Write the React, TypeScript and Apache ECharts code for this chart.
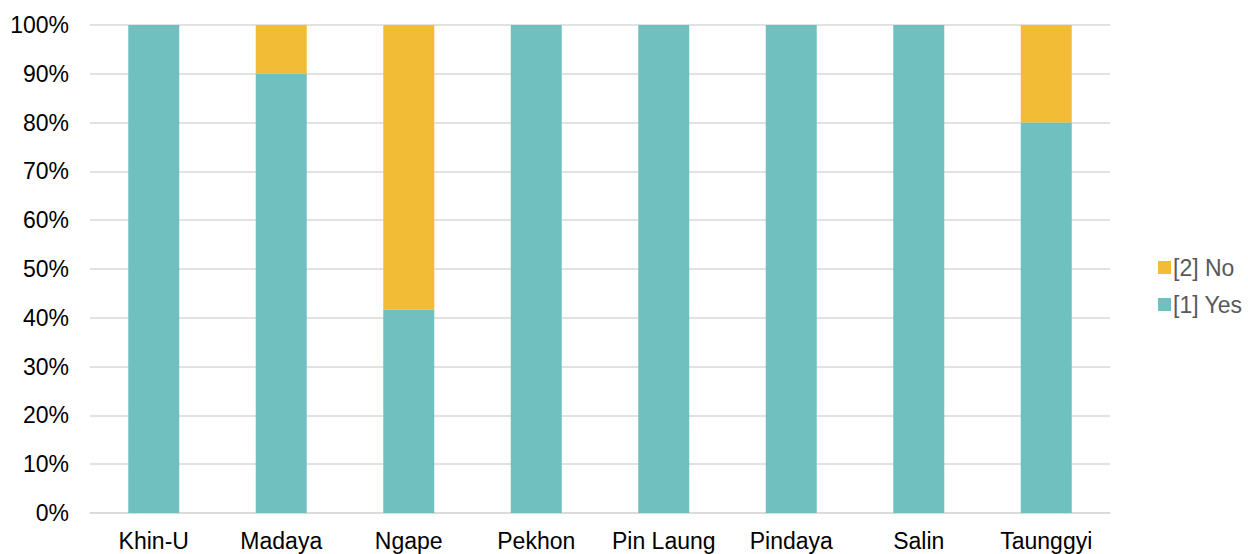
import React, { useEffect, useRef } from "react";
import * as echarts from "echarts";

const categories = ["Khin-U", "Madaya", "Ngape", "Pekhon", "Pin Laung", "Pindaya", "Salin", "Taunggyi"];
const yesValues = [100, 90, 41.7, 100, 100, 100, 100, 80];
const noValues = [0, 10, 58.3, 0, 0, 0, 0, 20];
const seriesNames = ["[1] Yes", "[2] No"];

export default function App() {
  const ref = useRef<HTMLDivElement>(null);
  useEffect(() => {
    document.body.style.margin = "0";
    const chart = echarts.init(ref.current!, null, { renderer: "svg" });
    const font = "'Liberation Sans', Arial, sans-serif";
    chart.setOption({
      animation: false,
      textStyle: { fontFamily: font },
      grid: { left: 90, right: 138, top: 25, bottom: 41 },
      legend: {
        orient: "vertical",
        left: 1153,
        top: 251,
        itemWidth: 13,
        itemHeight: 13,
        itemGap: 14,
        icon: "rect",
        data: ["[2] No", "[1] Yes"],
        textStyle: { color: "#595959", fontSize: 23, fontFamily: font, padding: [0, 0, 0, -3] },
      },
      xAxis: {
        type: "category",
        data: categories,
        axisLine: { lineStyle: { color: "#D9D9D9", width: 1.5 } },
        axisTick: { show: false },
        axisLabel: { color: "#000", fontSize: 23, fontFamily: font, margin: 16, interval: 0 },
      },
      yAxis: {
        type: "value",
        min: 0,
        max: 100,
        interval: 10,
        axisLabel: { formatter: "{value}%", color: "#000", fontSize: 23, fontFamily: font, margin: 21 },
        splitLine: { lineStyle: { color: "#D9D9D9", width: 1.5 } },
        axisLine: { show: false },
        axisTick: { show: false },
      },
      series: [
        {
          name: seriesNames[0],
          type: "bar",
          stack: "total",
          data: yesValues,
          barWidth: 51,
          itemStyle: { color: "#6FC0BF" },
        },
        {
          name: seriesNames[1],
          type: "bar",
          stack: "total",
          data: noValues,
          barWidth: 51,
          itemStyle: { color: "#F2BC37" },
        },
      ],
    });
    return () => chart.dispose();
  }, []);
  return <div ref={ref} style={{ width: 1248, height: 554 }} />;
}
